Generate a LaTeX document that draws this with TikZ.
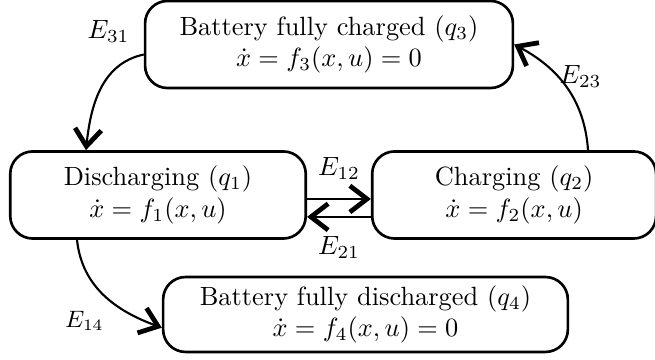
\documentclass[tikz,border=0pt]{standalone}
\usepackage{tikz}
\usetikzlibrary{arrows.meta, positioning}
\usepackage{amsmath}
\tikzset{
  arrowS/.style={-{Straight Barb[length=6.5pt, width=10pt, line width=1.8pt]}, line width=0.8pt},
  boxQ/.style={rectangle, rounded corners=8.5pt, draw=black, line width=1pt,
               align=center, inner sep=3pt, minimum height=33pt},
  lblE/.style={inner sep=1pt},
}
\begin{document}
\begin{tikzpicture}[x=0.013315cm, y=0.013315cm]
    \useasboundingbox (0,0) rectangle (655,-360);
    \node[boxQ, minimum width=112pt] (q1) at (158,-195) {Discharging $(q_1)$\\$\dot{x}=f_1(x,u)$};
    \node[boxQ, minimum width=107.6pt, right=0.85cm of q1] (q2) {Charging $(q_2)$\\$\dot{x}=f_2(x,u)$};
    \node[boxQ, minimum width=139.4pt] (q3) at (329,-44.5) {Battery fully charged $(q_3)$\\$\dot{x}=f_3(x,u)=0$};
    \node[boxQ, minimum width=153.4pt, minimum height=28.4pt] (q4) at (365.5,-314.5)
      {Battery fully discharged $(q_4)$\\$\dot{x}=f_4(x,u)=0$};
    \draw[arrowS] ([yshift=-3.8pt]q3.west) to[out=192, in=84]
      node[lblE, pos=0, anchor=south east, xshift=-4pt, yshift=3pt] {$E_{31}$} ([xshift=-27.3pt]q1.north);
    \draw[arrowS] ([xshift=28pt]q2.north) to[out=94, in=-28]
      node[lblE, pos=0.5, anchor=west, xshift=-4pt, yshift=4pt] {$E_{23}$} (q3.east);
    \draw[arrowS] ([yshift=-1.5pt]q1.east) -- node[lblE, above=6pt] {$E_{12}$} ([yshift=-1.5pt]q2.west);
    \draw[arrowS] ([yshift=-8.3pt]q2.west) -- node[lblE, below=6pt] {$E_{21}$} ([yshift=-8.3pt]q1.east);
    \draw[arrowS] ([xshift=-30.7pt]q1.south) to[out=-84, in=160]
      node[lblE, pos=0.78, anchor=east, xshift=-10pt, yshift=-2pt, font=\small] {$E_{14}$} ([yshift=-5pt]q4.west);
\end{tikzpicture}
\end{document}
